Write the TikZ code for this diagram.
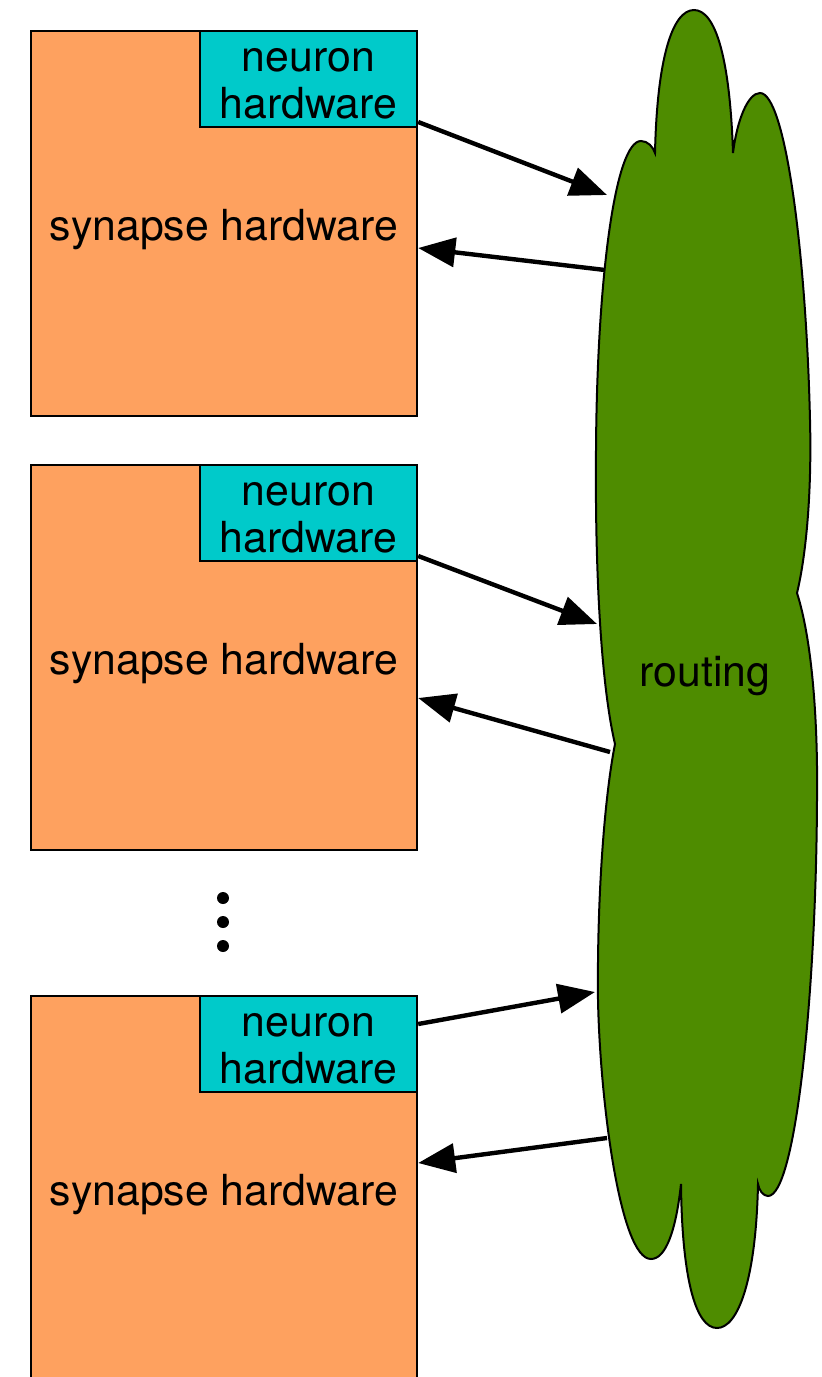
\documentclass[tikz,border=0pt]{standalone}
\usepackage{fontspec}
\setmainfont{TeX Gyre Heros}
\usetikzlibrary{positioning,calc,arrows.meta}
\definecolor{HwOrange}{HTML}{FEA15F}
\definecolor{HwCyan}{HTML}{00CACA}
\definecolor{HwGreen}{HTML}{4E8C00}

\begin{document}
\begin{tikzpicture}[x=0.5pt, y=-0.5pt,
  font=\fontsize{21.4}{23.5}\selectfont,
  synbox/.style={draw, line width=1.2pt, fill=HwOrange, minimum width=193pt,
    minimum height=192.5pt, inner sep=0pt, text height=19pt, text depth=2.1pt},
  neubox/.style={draw, line width=1.2pt, fill=HwCyan, minimum width=108.5pt,
    minimum height=48pt, inner sep=0pt, align=center, text height=39.7pt, text depth=0pt},
  link/.style={line width=2.2pt, -{Triangle[length=18.5pt, width=14.5pt]}}]
  \useasboundingbox (0,0) rectangle (822,1377);
  \clip (0,0) rectangle (822,1377);

  %% Routing cloud
  \draw[fill=HwGreen, line width=1pt]
    (615,744) .. controls (600,680) and (595,560) .. (596,450)
    .. controls (597,280) and (615,141) .. (641,141)
    .. controls (648,141) and (653,147) .. (655,153)
    .. controls (657,60) and (672,10) .. (694,10)
    .. controls (716,10) and (730,60) .. (733,153)
    .. controls (737,120) and (748,93) .. (760,93)
    .. controls (785,93) and (806,250) .. (810,420)
    .. controls (812,500) and (805,560) .. (797,593)
    .. controls (812,640) and (818,720) .. (817,800)
    .. controls (816,1000) and (795,1196) .. (768,1196)
    .. controls (763,1196) and (759,1190) .. (758,1184)
    .. controls (756,1280) and (738,1328) .. (717,1328)
    .. controls (696,1328) and (682,1280) .. (681,1184)
    .. controls (676,1230) and (666,1259) .. (651,1259)
    .. controls (620,1259) and (600,1100) .. (598,1000)
    .. controls (597,900) and (604,800) .. (615,744) -- cycle;
  \node (route) at (705,676) {routing};

  %% Points on the cloud edge
  \coordinate (r1) at (607,195);
  \coordinate (r2) at (605,270);
  \coordinate (r3) at (597,624);
  \coordinate (r4) at (610,752);
  \coordinate (r5) at (595,992);
  \coordinate (r6) at (607,1138);

  %% Hardware blocks
  \foreach \i/\y in {1/223.5, 2/657.5, 3/1188.5} {%
    \node[synbox] (syn\i) at (224,\y) {synapse hardware};
    \node[neubox, anchor=north east] (neu\i) at (syn\i.north east) {neuron\\hardware};
  }

  %% Vertical ellipsis
  \foreach \y in {898, 922, 946} {%
    \fill (223,\y) circle (3pt);
  }

  %% Links to and from routing
  \draw[link] (neu1.east |- 0,122) -- (r1);
  \draw[link] (r2) -- (syn1.east |- 0,248);
  \draw[link] (neu2.east |- 0,556) -- (r3);
  \draw[link] (r4) -- (syn2.east |- 0,698);
  \draw[link] (neu3.east |- 0,1024) -- (r5);
  \draw[link] (r6) -- (syn3.east |- 0,1163);
\end{tikzpicture}
\end{document}
